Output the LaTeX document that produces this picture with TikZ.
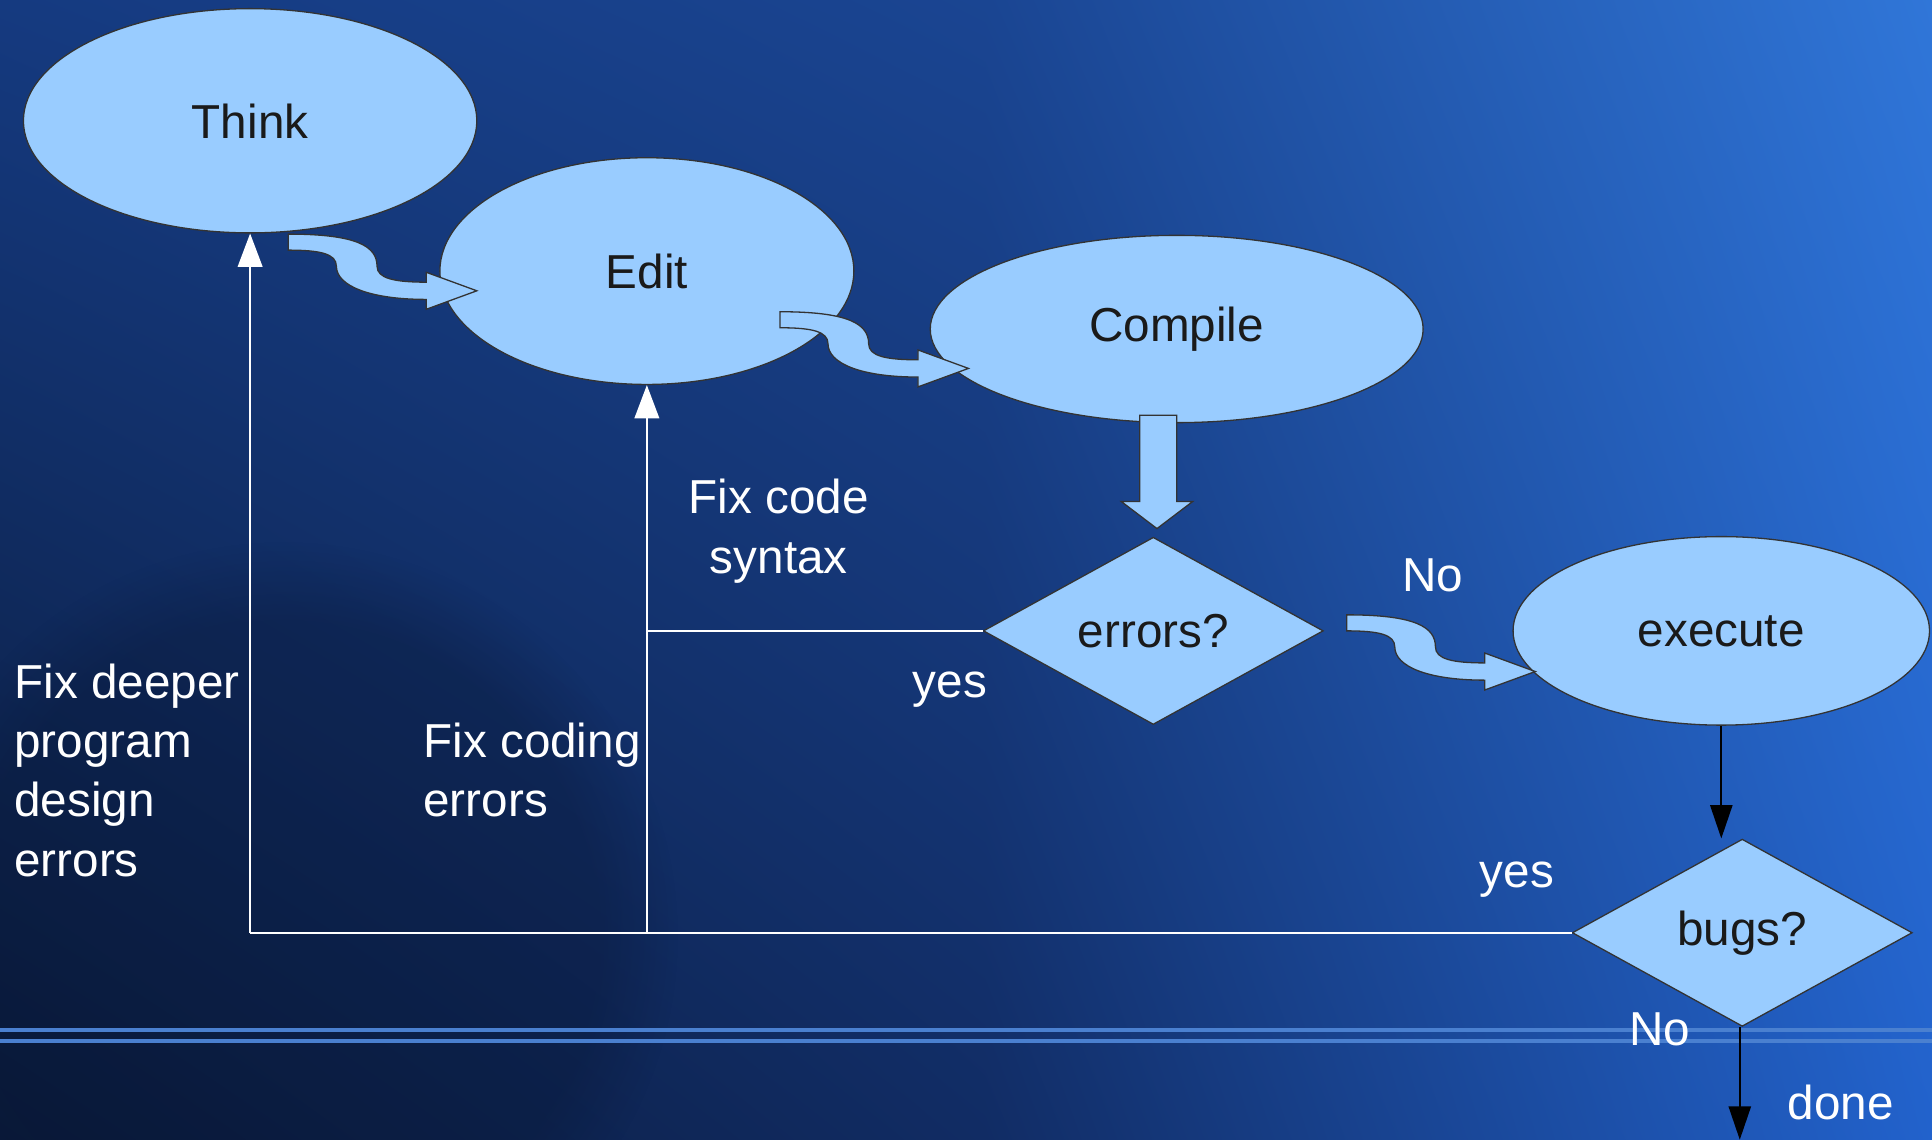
\documentclass[tikz,border=0pt]{standalone}
\usepackage{fontspec}
\setmainfont{Liberation Sans}
\usetikzlibrary{shapes.geometric,arrows.meta,fadings,shadings,positioning}

\definecolor{nodeblue}{HTML}{99CCFF}
\definecolor{textgray}{HTML}{1A1A1A}
\definecolor{bgul}{HTML}{153A80}
\definecolor{bgum}{HTML}{1A4592}
\definecolor{bgur}{HTML}{3076D8}
\definecolor{bgll}{HTML}{0A1A3A}
\definecolor{bglm}{HTML}{112C64}
\definecolor{bglr}{HTML}{2262CC}
\definecolor{bgdark}{HTML}{071430}
\definecolor{stripe}{HTML}{4A80D0}

\tikzset{
  bubble/.style={ellipse, draw=black!80, line width=0.3pt, fill=nodeblue, text=textgray, inner sep=0pt},
  test/.style={diamond, aspect=1.8, draw=black!80, line width=0.3pt, fill=nodeblue, text=textgray, inner sep=0pt,
    minimum width=2.76cm, minimum height=1.52cm},
  note/.style={text=white, inner sep=0pt, font=\fontsize{11}{13.7}\selectfont},
  wline/.style={draw=white, line width=0.4pt},
  back/.style={wline, -{Triangle[length=2.7mm,width=2mm]}},
  fwd/.style={draw=black, line width=0.4pt, -{Triangle[length=2.7mm,width=1.8mm]}},
  fat/.style={draw=black!80, line width=0.3pt, fill=nodeblue},
  curly/.pic={
    \filldraw[fat] (0,0) .. controls (56,0) and (72,10) .. (72,26)
      .. controls (72,36) and (86,39) .. (112,39) -- (112,31) -- (153,46) -- (112,61) -- (112,53)
      .. controls (66,53) and (39,42) .. (39,26) .. controls (39,16) and (26,13) .. (0,13) -- cycle;
  }
}

\begin{document}
\begin{tikzpicture}[x=0.1mm, y=-0.1mm, font=\fontsize{11}{13.7}\selectfont]
	\useasboundingbox (0,0) rectangle (1568,925);
	% background
	\shade[upper left=bgul, upper right=bgum, lower left=bgll, lower right=bglm] (0,0) rectangle (801,925);
	\shade[upper left=bgum, upper right=bgur, lower left=bglm, lower right=bglr] (800,0) rectangle (1568,925);
	\begin{scope}
		\clip (0,0) rectangle (1568,925);
		\fill[bgdark, path fading=circle with fuzzy edge 20 percent, opacity=0.3] (230,760) circle (320);
	\end{scope}
	\draw[stripe, line width=0.9pt] (0,836) -- (1568,836);
	\draw[stripe, line width=0.9pt] (0,845) -- (1568,845);

	% steps
	\node[bubble, minimum width=3.68cm, minimum height=1.82cm] (think) at (203,98) {Think};
	\node[bubble, minimum width=3.36cm, minimum height=1.84cm] (edit) at (525,220) {Edit};
	\node[bubble, minimum width=4.0cm, minimum height=1.52cm] (compile) at (955,267) {Compile};
	\node[test] (errors) at (936,512) {errors?};
	\node[bubble, minimum width=3.38cm, minimum height=1.53cm] (execute) at (1397,512) {execute};
	\node[test] (bugs) at (1414,757) {bugs?};

	% labels
	\node[note, align=center] (syntax) at (632,431) {Fix code\\syntax};
	\node[note] (yes1) at (771,560) {yes};
	\node[note] (no1) at (1163,467) {No};
	\node[note, align=left, anchor=west] (design) at (11,625) {Fix deeper\\program\\design\\errors};
	\node[note, align=left, anchor=west] (coding) at (343,625) {Fix coding\\errors};
	\node[note] (yes2) at (1231,714) {yes};
	\node[note] (no2) at (1347,835) {No};
	\node[note] (done) at (1494,895) {done};

	% way back
	\coordinate (jthink) at (think.south |- bugs.west);
	\coordinate (jedit) at (edit.south |- bugs.west);
	\draw[wline] (bugs.west) -- (jthink);
	\draw[back] (jthink) -- (think.south);
	\draw[back] (jedit) -- (edit.south);
	\draw[wline] (errors.west) -- (errors.west -| edit.south);

	% way forward
	\coordinate (finish) at (1412,925);
	\draw[fwd] (execute.south) -- (execute.south |- bugs.north);
	\draw[fwd] (bugs.south -| finish) -- (finish);
	\filldraw[fat] (925,337) -- (955,337) -- (955,407) -- (968,407) -- (939,429) -- (910,407) -- (925,407) -- cycle;
	\pic at (234,190) {curly};
	\pic at (633,253) {curly};
	\pic at (1093,499) {curly};
\end{tikzpicture}
\end{document}
